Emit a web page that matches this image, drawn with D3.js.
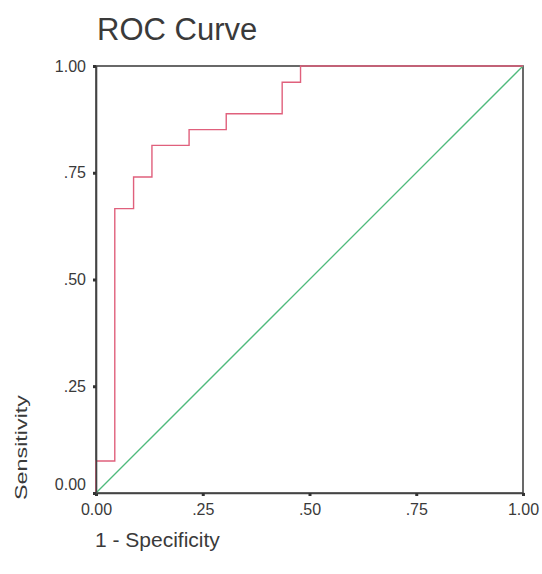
<!DOCTYPE html>
<html>
<head>
<meta charset="utf-8">
<script src="https://cdn.jsdelivr.net/npm/d3@7"></script>
<style>
  body { margin: 0; background: #fff; }
  text { font-family: "Liberation Sans", Arial, sans-serif; fill: #3a3a3a; }
</style>
</head>
<body>
<script>
// ROC step curve
const fpr = [0, 0, 0.044, 0.044, 0.088, 0.088, 0.131, 0.131, 0.218, 0.218, 0.305, 0.305, 0.436, 0.436, 0.479, 0.479, 1];
const tpr = [0, 0.075, 0.075, 0.666, 0.666, 0.740, 0.740, 0.814, 0.814, 0.851, 0.851, 0.888, 0.888, 0.962, 0.962, 1, 1];
const refLine = [[0, 0], [1, 1]];
const tickValues = [0, 0.25, 0.5, 0.75, 1];
const tickLabels = ["0.00", ".25", ".50", ".75", "1.00"];

const margin = { top: 66, right: 19, bottom: 81, left: 96 },
      width = 542 - margin.left - margin.right,
      height = 574 - margin.top - margin.bottom;

const svg = d3.select("body").append("svg")
    .attr("width", 542)
    .attr("height", 574);

const g = svg.append("g")
    .attr("transform", `translate(${margin.left},${margin.top})`);

const x = d3.scaleLinear().domain([0, 1]).range([0, width]);
const y = d3.scaleLinear().domain([0, 1]).range([height, 0]);

// frame
g.append("rect")
    .attr("width", width)
    .attr("height", height)
    .attr("fill", "none")
    .attr("stroke", "#444")
    .attr("stroke-width", 1.6);

// reference diagonal
g.append("path")
    .datum(refLine)
    .attr("d", d3.line().x(d => x(d[0])).y(d => y(d[1])))
    .attr("fill", "none")
    .attr("stroke", "#4fba7c")
    .attr("stroke-width", 1.3);

// ROC curve
const pts = fpr.map((v, i) => [v, tpr[i]]);
g.append("path")
    .datum(pts)
    .attr("d", d3.line().x(d => x(d[0])).y(d => y(d[1])))
    .attr("fill", "none")
    .attr("stroke", "#e0607c")
    .attr("stroke-width", 1.4);

// axes
const fmt = d => tickLabels[tickValues.indexOf(d)];

const xAxis = g.append("g")
    .attr("transform", `translate(0,${height})`)
    .call(d3.axisBottom(x).tickValues(tickValues).tickFormat(fmt).tickSize(3).tickPadding(8));

const yAxis = g.append("g")
    .call(d3.axisLeft(y).tickValues(tickValues).tickFormat(fmt).tickSize(3).tickPadding(7));

[xAxis, yAxis].forEach(a => {
    a.select(".domain").attr("stroke", "#444").attr("stroke-width", 1.6);
    a.selectAll(".tick line").attr("stroke", "#333").attr("stroke-width", 3);
    a.selectAll(".tick text")
        .style("font-size", "16px")
        .style("font-family", "'Liberation Sans', Arial, sans-serif")
        .attr("fill", "#3a3a3a");
});

// lift the 0.00 label on the y axis off the corner
yAxis.selectAll(".tick text").filter(d => d === 0).attr("dy", "-0.25em");

// title and axis titles
svg.append("text")
    .attr("x", 97)
    .attr("y", 40)
    .style("font-size", "31px")
    .text("ROC Curve");

svg.append("text")
    .attr("x", 95)
    .attr("y", 547)
    .style("font-size", "21px")
    .text("1 - Specificity");

svg.append("text")
    .attr("transform", "translate(27,500) rotate(-90)")
    .attr("textLength", 105)
    .attr("lengthAdjust", "spacingAndGlyphs")
    .style("font-size", "17px")
    .text("Sensitivity");
</script>
</body>
</html>
